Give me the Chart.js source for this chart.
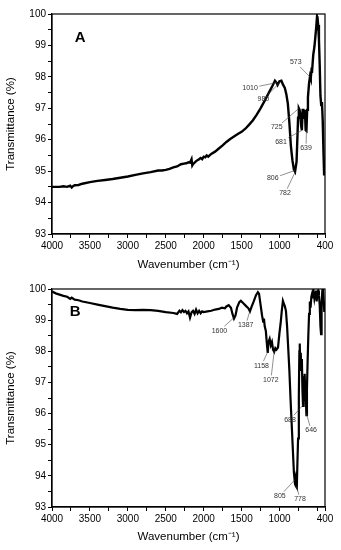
<!DOCTYPE html>
<html>
<head>
<meta charset="utf-8">
<script src="https://cdn.jsdelivr.net/npm/chart.js@4"></script>
<style>
  html, body { margin: 0; padding: 0; background: #fff; }
  canvas { display: block; }
</style>
</head>
<body>
<canvas id="chartA" width="341" height="275"></canvas>
<canvas id="chartB" width="341" height="275"></canvas>
<script>
// Spectrum A (wavenumber cm-1 / transmittance %)
const waveA = [4000, 3900, 3850, 3800, 3760, 3740, 3720, 3700, 3650, 3600, 3500, 3400, 3300, 3200, 3100, 3000,
  2900, 2800, 2700, 2600, 2550, 2500, 2450, 2400, 2350, 2300, 2260, 2230, 2200, 2180, 2160, 2150, 2140, 2100,
  2060, 2040, 2020, 2000, 1980, 1960, 1940, 1900, 1850, 1800, 1750, 1700, 1650, 1600, 1550, 1500, 1450, 1400,
  1350, 1300, 1250, 1200, 1150, 1100, 1060, 1040, 1025, 1000, 975, 955, 930, 910, 890, 870, 850, 830, 810,
  795, 785, 775, 765, 755, 745, 735, 725, 715, 705, 695, 685, 675, 665, 655, 645, 635, 625, 610, 597, 588,
  578, 570, 555, 540, 530, 515, 505, 498, 490, 480, 470, 460, 450, 440, 430, 420, 412, 405, 400];
const transA = [94.50, 94.50, 94.52, 94.50, 94.54, 94.48, 94.53, 94.55, 94.56, 94.60, 94.65, 94.69, 94.72, 94.75, 94.79, 94.83,
  94.88, 94.93, 94.97, 95.02, 95.02, 95.04, 95.07, 95.12, 95.15, 95.22, 95.24, 95.25, 95.28, 95.27, 95.38, 95.18, 95.22, 95.32,
  95.38, 95.42, 95.38, 95.46, 95.44, 95.50, 95.46, 95.55, 95.62, 95.72, 95.82, 95.93, 96.02, 96.10, 96.18, 96.25, 96.35, 96.48,
  96.62, 96.80, 97.00, 97.22, 97.45, 97.68, 97.88, 97.82, 97.74, 97.86, 97.88, 97.76, 97.65, 97.45, 97.15, 96.55, 95.80, 95.35, 95.05,
  94.98, 94.98, 95.30, 96.00, 96.70, 97.00, 96.95, 96.80, 96.45, 96.30, 96.95, 96.95, 96.70, 96.95, 96.30, 96.28, 96.95, 97.35, 97.80, 98.02, 97.95,
  98.22, 98.20, 98.70, 98.95, 99.20, 99.60, 99.92, 99.85, 99.65, 99.20, 98.40, 97.40, 97.10, 97.20, 96.60, 95.60, 94.90, 94.90, 94.90];

// Spectrum B
const waveB = [4000, 3950, 3900, 3850, 3800, 3760, 3740, 3700, 3650, 3600, 3500, 3400, 3300, 3200, 3100, 3000,
  2900, 2800, 2700, 2600, 2500, 2400, 2350, 2320, 2300, 2280, 2260, 2240, 2220, 2200, 2180, 2160, 2140, 2120,
  2100, 2080, 2060, 2040, 2020, 2000, 1950, 1900, 1850, 1800, 1760, 1720, 1700, 1670, 1640, 1620, 1600, 1580,
  1560, 1530, 1510, 1480, 1440, 1410, 1390, 1370, 1340, 1310, 1285, 1270, 1250, 1230, 1215, 1205, 1195, 1180,
  1165, 1155, 1145, 1130, 1115, 1100, 1085, 1070, 1055, 1040, 1020, 1000, 985, 970, 955, 945, 930, 915, 900,
  885, 870, 855, 840, 825, 810, 800, 790, 780, 772, 765, 755, 745, 738, 733, 728, 720, 712, 705, 698, 690,
  682, 675, 668, 660, 652, 645, 638, 630, 620, 610, 600, 590, 580, 570, 560, 550, 540, 530, 520, 510, 500,
  490, 480, 470, 460, 452, 445, 435, 428, 420, 410, 405, 400];
const transB = [99.92, 99.86, 99.82, 99.78, 99.75, 99.68, 99.72, 99.66, 99.64, 99.60, 99.55, 99.50, 99.45, 99.40, 99.36, 99.33,
  99.32, 99.33, 99.32, 99.30, 99.26, 99.23, 99.20, 99.30, 99.25, 99.32, 99.26, 99.30, 99.22, 99.28, 99.08, 99.25, 99.30, 99.20,
  99.34, 99.22, 99.30, 99.22, 99.28, 99.26, 99.28, 99.30, 99.34, 99.36, 99.40, 99.38, 99.44, 99.48, 99.40, 99.20, 99.05, 99.15,
  99.40, 99.58, 99.62, 99.55, 99.45, 99.38, 99.28, 99.42, 99.60, 99.80, 99.90, 99.85, 99.50, 99.15, 98.95, 99.05, 98.80, 98.65,
  98.20, 97.95, 98.30, 98.40, 98.20, 98.30, 98.05, 97.98, 98.10, 98.05, 98.12, 98.60, 98.90, 99.30, 99.62, 99.55, 99.45, 99.30, 98.80,
  98.10, 97.40, 96.50, 95.70, 94.90, 94.10, 93.85, 93.95, 93.65, 93.62, 94.30, 95.20, 96.60, 98.00, 98.25, 97.70, 97.95, 97.40, 97.75, 96.80, 96.25,
  97.20, 96.90, 97.28, 96.60, 96.40, 95.95, 96.80, 97.60, 98.50, 99.20, 99.60, 99.40, 99.75, 99.85, 99.70, 99.90, 99.70, 99.85, 99.95, 99.60, 99.90,
  99.95, 99.80, 99.50, 98.80, 98.55, 99.50, 99.95, 100.0, 99.70, 99.30, 99.60, 99.40];

// Peak labels: text, where the leader points to, where the text sits
const peakTextA = ['1010', '980', '573', '725', '681', '639', '806', '782'];
const peakWaveA = [1035, 985, 600, 752, 702, 645, 800, 792];
const peakTransA = [97.82, 97.84, 98.0, 96.98, 96.3, 96.3, 95.02, 94.98];
const labelWaveA = [1388, 1213, 786, 1036, 980, 650, 1089, 927];
const labelTransA = [97.64, 97.29, 98.46, 96.39, 95.94, 95.73, 94.77, 94.3];

const peakTextB = ['1600', '1387', '1158', '1072', '688', '646', '805', '778'];
const peakWaveB = [1605, 1392, 1158, 1070, 692, 644, 800, 774];
const peakTransB = [99.07, 99.28, 97.97, 98.0, 96.27, 96.0, 93.87, 93.65];
const labelWaveB = [1792, 1446, 1238, 1114, 862, 583, 995, 729];
const labelTransB = [98.66, 98.84, 97.54, 97.08, 95.8, 95.46, 93.35, 93.25];

// axes
const xTickLabels = [4000, 3500, 3000, 2500, 2000, 1500, 1000, 400];
const yTickLabels = [93, 94, 95, 96, 97, 98, 99, 100];

const FONT = '"Liberation Sans", Arial, sans-serif';

// closes the box round the plot area
const framePlugin = {
  id: 'frame',
  afterDraw(chart) {
    const { ctx, chartArea: a } = chart;
    ctx.save();
    ctx.strokeStyle = '#000';
    ctx.lineWidth = 1.2;
    ctx.strokeRect(a.left, a.top, a.right - a.left, a.bottom - a.top);
    ctx.restore();
  }
};

// peak numbers with leader lines, plus the panel letter
const peakPlugin = {
  id: 'peaks',
  afterDatasetsDraw(chart, args, opts) {
    const { ctx, scales: { x, y } } = chart;
    ctx.save();
    ctx.font = '7px ' + FONT;
    ctx.fillStyle = '#333';
    ctx.strokeStyle = '#444';
    ctx.lineWidth = 0.6;
    ctx.textAlign = 'center';
    ctx.textBaseline = 'middle';
    opts.text.forEach((t, i) => {
      const tx = x.getPixelForValue(opts.labelWave[i]);
      const ty = y.getPixelForValue(opts.labelTrans[i]);
      const px = x.getPixelForValue(opts.peakWave[i]);
      const py = y.getPixelForValue(opts.peakTrans[i]);
      ctx.fillText(t, tx, ty);
      const w = ctx.measureText(t).width / 2 + 1.5, h = 4.5;
      const dx = px - tx, dy = py - ty;
      const s = Math.min(dx ? w / Math.abs(dx) : Infinity, dy ? h / Math.abs(dy) : Infinity);
      ctx.beginPath();
      ctx.moveTo(tx + dx * s, ty + dy * s);
      ctx.lineTo(px, py);
      ctx.stroke();
    });
    ctx.font = 'bold 15px ' + FONT;
    ctx.fillStyle = '#000';
    ctx.fillText(opts.letter, x.getPixelForValue(opts.letterWave), y.getPixelForValue(opts.letterTrans));
    ctx.restore();
  }
};

function makeChart(id, waves, trans, peaks, axisHeight, titlePad, lineWidth) {
  const ctx = document.getElementById(id).getContext('2d');
  return new Chart(ctx, {
    type: 'scatter',
    data: {
      datasets: [{
        data: waves.map((w, i) => ({ x: w, y: trans[i] })),
        showLine: true,
        borderColor: '#000',
        borderWidth: lineWidth,
        pointRadius: 0,
        tension: 0
      }]
    },
    options: {
      responsive: false,
      animation: false,
      devicePixelRatio: 1,
      layout: { padding: { top: 14, right: 16, bottom: 0, left: 0 } },
      plugins: {
        legend: { display: false },
        tooltip: { enabled: false },
        peaks: peaks
      },
      scales: {
        x: {
          type: 'linear',
          reverse: true,
          min: 400,
          max: 4000,
          afterBuildTicks: (scale) => {
            const t = [];
            for (let v = 4000; v >= 500; v -= 250) t.push({ value: v });
            t.push({ value: 400 });
            scale.ticks = t;
          },
          afterFit: (scale) => { scale.height = axisHeight; },
          ticks: {
            autoSkip: false,
            maxRotation: 0,
            padding: 2,
            color: '#000',
            font: { family: FONT, size: 10 },
            callback: (v) => xTickLabels.includes(v) ? String(v) : ''
          },
          grid: { drawOnChartArea: false, tickLength: 4, color: '#000', tickWidth: 1 },
          border: { color: '#000', width: 1.2 },
          title: {
            display: true,
            text: 'Wavenumber (cm⁻¹)',
            color: '#000',
            font: { family: FONT, size: 11.5 },
            padding: { top: 0, bottom: titlePad }
          }
        },
        y: {
          min: 93,
          max: 100,
          afterBuildTicks: (scale) => {
            const t = [];
            for (let v = 93; v <= 100; v += 0.5) t.push({ value: v });
            scale.ticks = t;
          },
          afterFit: (scale) => { scale.width = 52; },
          ticks: {
            padding: 2,
            color: '#000',
            font: { family: FONT, size: 10 },
            callback: (v) => yTickLabels.includes(v) ? String(v) : ''
          },
          grid: { drawOnChartArea: false, tickLength: 4, color: '#000', tickWidth: 1 },
          border: { color: '#000', width: 1.2 },
          title: {
            display: true,
            text: 'Transmittance (%)',
            color: '#000',
            font: { family: FONT, size: 11.5 },
            padding: { top: 4, bottom: 0 }
          }
        }
      }
    },
    plugins: [framePlugin, peakPlugin]
  });
}

makeChart('chartA', waveA, transA, {
  text: peakTextA, peakWave: peakWaveA, peakTrans: peakTransA,
  labelWave: labelWaveA, labelTrans: labelTransA,
  letter: 'A', letterWave: 3630, letterTrans: 99.24
}, 41, 3, 2.4);

makeChart('chartB', waveB, transB, {
  text: peakTextB, peakWave: peakWaveB, peakTrans: peakTransB,
  labelWave: labelWaveB, labelTrans: labelTransB,
  letter: 'B', letterWave: 3695, letterTrans: 99.27
}, 43, 6, 2.2);
</script>
</body>
</html>
